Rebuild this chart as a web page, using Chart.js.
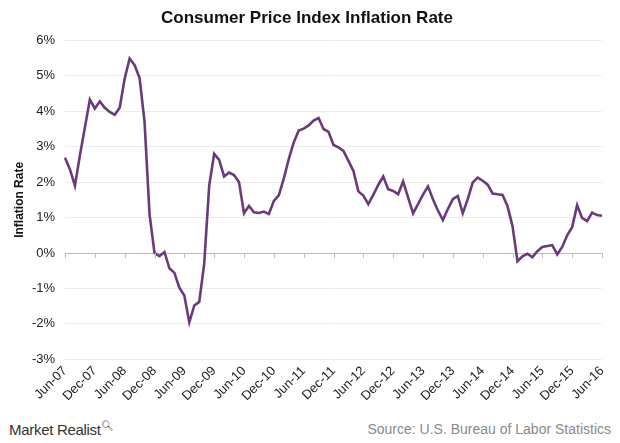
<!DOCTYPE html>
<html>
<head>
<meta charset="utf-8">
<script src="https://cdn.jsdelivr.net/npm/chart.js@4/dist/chart.umd.min.js"></script>
<style>
  body{margin:0;background:#fff;font-family:"Liberation Sans",Arial,sans-serif;}
  #wrap{position:relative;width:620px;height:443px;}
  #box{position:absolute;left:0;top:0;width:620px;height:408px;}
  #logo{position:absolute;left:9px;top:420px;font-size:15px;color:#333;letter-spacing:-0.3px;}
  #logo sup{font-size:10px;}
  #src{position:absolute;right:9px;top:421px;font-size:14px;color:#8a8a8a;}
</style>
</head>
<body>
<div id="wrap">
  <div id="box"><canvas id="c"></canvas></div>
  <div id="logo">Market Realist<sup>&#x1F50D;&#xFE0E;</sup></div>
  <div id="src">Source: U.S. Bureau of Labor Statistics</div>
</div>
<script>
const monthAbbr=["Jan","Feb","Mar","Apr","May","Jun","Jul","Aug","Sep","Oct","Nov","Dec"];
// months Jun-07 .. Jun-16
const months=[];
for(let i=0;i<109;i++){
  const m=(5+i)%12, y=7+Math.floor((5+i)/12);
  months.push(monthAbbr[m]+"-"+String(y).padStart(2,'0'));
}
// tick labels shown every 6 months
const tickLabels=["Jun-07","Dec-07","Jun-08","Dec-08","Jun-09","Dec-09","Jun-10","Dec-10","Jun-11",
  "Dec-11","Jun-12","Dec-12","Jun-13","Dec-13","Jun-14","Dec-14","Jun-15","Dec-15","Jun-16"];

// inflation rate, %
const rate2007=[2.69,2.36,1.90,2.76,3.54,4.33,4.08];
const rate2008=[4.28,4.10,3.98,3.90,4.10,4.92,5.49,5.30,4.94,3.70,1.10,0.00];
const rate2009=[-0.09,0.03,-0.43,-0.56,-0.98,-1.20,-1.96,-1.48,-1.38,-0.30,1.90,2.80];
const rate2010=[2.63,2.16,2.27,2.20,2.00,1.12,1.33,1.15,1.13,1.17,1.10,1.47];
const rate2011=[1.63,2.10,2.65,3.12,3.46,3.51,3.60,3.74,3.81,3.50,3.42,3.05];
const rate2012=[2.98,2.88,2.60,2.32,1.74,1.62,1.38,1.64,1.92,2.16,1.80,1.75];
const rate2013=[1.66,2.02,1.57,1.12,1.38,1.65,1.88,1.52,1.20,0.93,1.24,1.52];
const rate2014=[1.61,1.12,1.52,1.99,2.13,2.04,1.93,1.68,1.66,1.64,1.32,0.76];
const rate2015=[-0.23,-0.09,-0.02,-0.12,0.05,0.17,0.20,0.22,-0.04,0.17,0.50,0.73];
const rate2016=[1.35,0.99,0.90,1.14,1.07,1.05];
const rates=[].concat(rate2007,rate2008,rate2009,rate2010,rate2011,rate2012,rate2013,rate2014,rate2015,rate2016);

const yTicks=[-3,-2,-1,0,1,2,3,4,5,6];

// short tick marks on the zero line
const zeroTicks={
  id:"zeroTicks",
  afterDatasetsDraw(chart){
    const {ctx,scales:{x,y}}=chart;
    const y0=y.getPixelForValue(0);
    ctx.save();
    ctx.strokeStyle="#bdbdbd"; ctx.lineWidth=1;
    x.ticks.forEach((t,i)=>{
      const px=Math.round(x.getPixelForTick(i))+0.5;
      ctx.beginPath(); ctx.moveTo(px,y0); ctx.lineTo(px,y0+5); ctx.stroke();
    });
    ctx.restore();
  }
};

new Chart(document.getElementById("c"),{
  type:"line",
  data:{labels:months,datasets:[{data:rates,borderColor:"#6a3b7a",borderWidth:2.6,pointRadius:0,tension:0,fill:false}]},
  options:{
    responsive:true,maintainAspectRatio:false,animation:false,
    layout:{padding:{left:12,right:18,top:4,bottom:0}},
    plugins:{
      legend:{display:false},tooltip:{enabled:false},
      title:{display:true,text:"Consumer Price Index Inflation Rate",color:"#111",
        font:{family:"Liberation Sans",size:17,weight:"bold"},padding:{top:4,bottom:12}}
    },
    scales:{
      x:{
        offset:false,
        grid:{display:false,drawTicks:false},
        border:{display:false},
        ticks:{
          autoSkip:false,maxRotation:45,minRotation:45,color:"#222",padding:4,
          font:{family:"Liberation Sans",size:13},
          callback(v,i){ return i%6===0?months[i]:null; }
        }
      },
      y:{
        min:-3,max:6,
        afterBuildTicks(s){ s.ticks=yTicks.map(v=>({value:v})); },
        afterFit(s){ s.width=53; },
        grid:{color:c=>c.tick&&c.tick.value===0?"#bdbdbd":"#ececec",drawTicks:false,lineWidth:1},
        border:{display:false},
        ticks:{color:"#222",padding:10,font:{family:"Liberation Sans",size:13},callback:v=>v+"%"},
        title:{display:true,text:"Inflation Rate",color:"#111",font:{family:"Liberation Sans",size:12,weight:"bold"},padding:{top:0,bottom:0}}
      }
    }
  },
  plugins:[zeroTicks]
});
</script>
</body>
</html>
